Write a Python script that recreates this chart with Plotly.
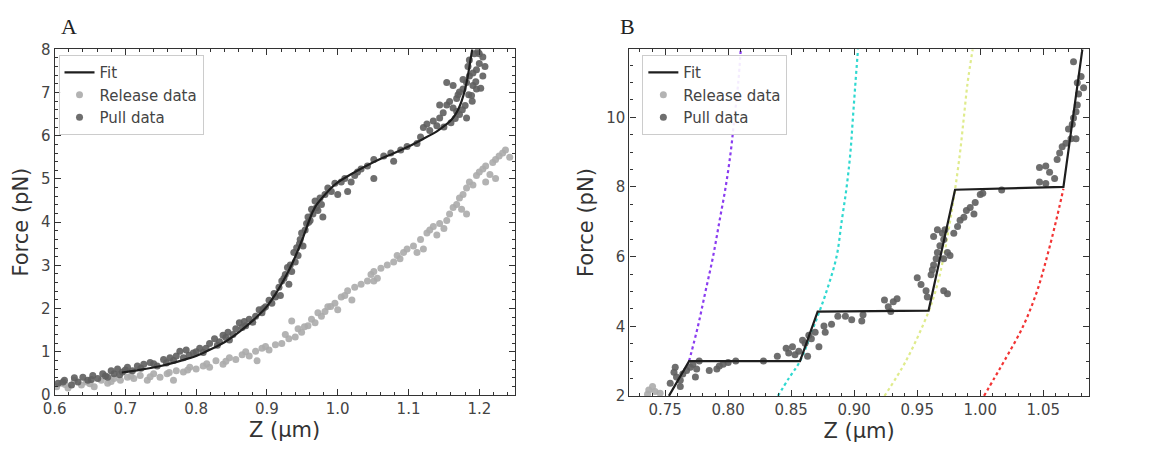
import plotly.graph_objects as go

# ---------------- Panel A data ----------------
a_fit_z = [0.695, 0.72, 0.75, 0.78, 0.80, 0.82, 0.84, 0.86, 0.88, 0.90, 0.91, 0.92, 0.93, 0.94,
           0.95, 0.96, 0.965, 0.97, 0.98, 0.99, 1.00, 1.02, 1.04, 1.06, 1.08, 1.10, 1.12, 1.14,
           1.15, 1.16, 1.165, 1.17, 1.175, 1.18, 1.184, 1.187, 1.19]
a_fit_f = [0.52, 0.58, 0.67, 0.80, 0.90, 1.05, 1.22, 1.45, 1.72, 2.05, 2.28, 2.55, 2.85, 3.20,
           3.60, 4.05, 4.25, 4.40, 4.60, 4.78, 4.92, 5.12, 5.30, 5.46, 5.60, 5.75, 5.92, 6.10,
           6.22, 6.36, 6.46, 6.60, 6.80, 7.08, 7.40, 7.70, 8.00]

a_pull_z = [0.605, 0.614, 0.624, 0.633, 0.640, 0.647, 0.654, 0.661, 0.668, 0.675, 0.680, 0.684,
            0.689, 0.696, 0.703, 0.710, 0.717, 0.726, 0.735, 0.745, 0.754, 0.763, 0.772, 0.777,
            0.786, 0.782, 0.796, 0.805, 0.814, 0.819, 0.826, 0.833, 0.838, 0.845, 0.847, 0.856,
            0.861, 0.865, 0.870, 0.875, 0.884, 0.889, 0.893, 0.898, 0.903, 0.907, 0.912, 0.917,
            0.919, 0.921, 0.926, 0.931, 0.933, 0.935, 0.940, 0.938, 0.942, 0.944, 0.947, 0.949,
            0.951, 0.954, 0.956, 0.958, 0.961, 0.963, 0.965, 0.968, 0.970, 0.972, 0.975, 0.977,
            0.979, 0.982, 0.986, 0.991, 0.996, 1.000, 1.005, 1.010, 1.014, 1.019, 1.024, 1.028,
            1.033, 1.042, 1.051, 1.051, 1.065, 1.075, 1.079, 1.089, 1.098, 1.112, 1.117, 1.121,
            1.126, 1.135, 1.144, 1.130, 1.140, 1.149, 1.154, 1.158, 1.163, 1.168, 1.172, 1.177,
            1.182, 1.182, 1.186, 1.191, 1.196, 1.200, 1.205, 1.191, 1.189, 1.196, 1.186, 1.193,
            1.184, 1.177, 1.163, 1.154, 1.144, 1.168, 1.172, 1.200, 1.205,
            0.612, 0.628, 0.652, 0.672, 0.692, 0.700, 0.722, 0.740, 0.758, 0.768, 0.790, 0.800,
            0.810, 0.830, 0.842, 0.852, 0.868, 0.880, 0.895, 0.910, 0.924, 0.929, 0.946, 0.959,
            1.180, 1.185, 1.195, 1.202, 1.208, 1.176, 1.170, 1.166, 1.160, 1.150, 1.198, 1.190]
a_pull_f = [0.27, 0.34, 0.23, 0.30, 0.41, 0.34, 0.45, 0.38, 0.49, 0.41, 0.56, 0.49,
            0.60, 0.53, 0.64, 0.56, 0.67, 0.71, 0.75, 0.67, 0.82, 0.86, 0.90, 1.01,
            1.04, 0.86, 0.97, 1.08, 1.08, 1.19, 1.30, 1.23, 1.38, 1.45, 1.27, 1.53,
            1.67, 1.56, 1.60, 1.75, 1.82, 1.97, 1.90, 2.04, 2.19, 2.12, 2.27, 2.49,
            2.30, 2.64, 2.79, 2.56, 3.01, 2.86, 3.08, 3.30, 3.41, 3.23, 3.60, 3.75,
            3.45, 3.82, 3.97, 4.12, 4.04, 4.30, 4.19, 4.49, 4.34, 4.27, 4.56, 4.41,
            4.12, 4.64, 4.79, 4.71, 4.90, 4.64, 4.93, 5.01, 4.71, 4.93, 5.08, 5.16,
            5.23, 5.30, 5.01, 5.45, 5.53, 5.60, 5.41, 5.67, 5.75, 5.82, 5.97, 6.19,
            6.27, 6.34, 6.41, 6.12, 6.23, 6.53, 6.71, 6.79, 6.64, 6.86, 7.01, 7.08,
            6.41, 7.23, 7.38, 7.45, 7.53, 7.67, 7.38, 7.16, 6.93, 7.08, 7.75, 7.90,
            7.60, 7.30, 7.16, 7.23, 6.71, 6.56, 6.49, 7.90, 7.82,
            0.30, 0.40, 0.36, 0.44, 0.47, 0.58, 0.62, 0.72, 0.74, 0.80, 0.92, 1.00,
            0.98, 1.15, 1.33, 1.40, 1.70, 1.68, 2.00, 2.35, 2.70, 2.95, 3.50, 4.00,
            6.70, 6.95, 7.25, 7.10, 7.60, 6.60, 6.95, 6.40, 6.30, 6.20, 7.95, 6.80]

a_rel_z = [0.603, 0.610, 0.619, 0.628, 0.638, 0.645, 0.656, 0.666, 0.675, 0.684, 0.693, 0.703,
           0.712, 0.721, 0.731, 0.740, 0.749, 0.759, 0.768, 0.772, 0.782, 0.791, 0.800, 0.810,
           0.819, 0.828, 0.838, 0.847, 0.856, 0.865, 0.875, 0.884, 0.886, 0.893, 0.903, 0.912,
           0.921, 0.931, 0.935, 0.940, 0.944, 0.949, 0.958, 0.963, 0.968, 0.972, 0.977, 0.982,
           0.986, 0.996, 1.000, 1.005, 1.010, 1.014, 1.024, 1.033, 1.042, 1.047, 1.051, 1.061,
           1.070, 1.079, 1.084, 1.093, 1.098, 1.107, 1.117, 1.126, 1.130, 1.135, 1.144, 1.154,
           1.158, 1.163, 1.168, 1.177, 1.182, 1.172, 1.186, 1.191, 1.196, 1.200, 1.205, 1.209,
           1.219, 1.223, 1.228, 1.233, 1.237, 1.223, 1.209, 1.182, 1.121, 1.051,
           0.615, 0.650, 0.680, 0.708, 0.735, 0.762, 0.788, 0.815, 0.842, 0.870, 0.898, 0.926,
           0.953, 0.990, 1.020, 1.056, 1.088, 1.112, 1.140, 1.150, 1.175, 1.215, 1.243]
a_rel_f = [0.19, 0.27, 0.16, 0.34, 0.23, 0.30, 0.19, 0.34, 0.27, 0.38, 0.34, 0.41,
           0.38, 0.45, 0.34, 0.49, 0.41, 0.49, 0.34, 0.56, 0.53, 0.64, 0.60, 0.67,
           0.64, 0.79, 0.71, 0.86, 0.82, 0.93, 0.90, 1.01, 0.79, 1.08, 1.04, 1.16,
           1.19, 1.30, 1.71, 1.34, 1.53, 1.45, 1.60, 1.75, 1.67, 1.90, 1.82, 1.93,
           2.04, 2.12, 1.97, 2.27, 2.30, 2.41, 2.49, 2.56, 2.64, 2.79, 2.86, 2.93,
           3.01, 3.08, 3.23, 3.30, 3.38, 3.45, 3.60, 3.75, 3.82, 3.90, 3.97, 4.04,
           4.19, 4.34, 4.41, 4.64, 4.79, 4.56, 4.93, 4.86, 5.08, 5.16, 5.23, 5.30,
           5.38, 5.45, 5.53, 5.60, 5.67, 5.01, 4.93, 4.19, 3.38, 2.64,
           0.24, 0.26, 0.31, 0.44, 0.42, 0.52, 0.58, 0.72, 0.78, 1.00, 1.12, 1.40,
           1.58, 2.05, 2.20, 2.70, 3.15, 3.30, 3.70, 3.85, 4.30, 5.10, 5.50]

# ---------------- Panel B data ----------------
b_fit_z = [0.753, 0.769, 0.857, 0.871, 0.959, 0.980, 1.066, 1.081]
b_fit_f = [2.00, 3.00, 3.00, 4.42, 4.45, 7.92, 8.00, 11.95]

b_pull_z = [0.754, 0.757, 0.759, 0.762, 0.758, 0.764, 0.762, 0.767, 0.770, 0.772, 0.775, 0.777,
            0.774, 0.785, 0.791, 0.793, 0.796, 0.800, 0.806, 0.828, 0.839, 0.846, 0.848, 0.851,
            0.853, 0.856, 0.859, 0.861, 0.863, 0.864, 0.866, 0.869, 0.872, 0.876, 0.877, 0.882,
            0.887, 0.893, 0.898, 0.906, 0.907, 0.924, 0.927, 0.931, 0.934, 0.929, 0.950, 0.953,
            0.957, 0.958, 0.961, 0.962, 0.963, 0.965, 0.966, 0.968, 0.971, 0.963, 0.966, 0.970,
            0.972, 0.971, 0.974, 0.976, 0.971, 0.974, 0.979, 0.984, 0.987, 0.989, 0.992, 0.995,
            0.996, 1.000, 1.002, 0.982, 1.017, 1.047, 1.052, 1.055, 1.059, 1.061, 1.063, 1.065,
            1.068, 1.070, 1.073, 1.074, 1.076, 1.077, 1.078, 1.077, 1.080, 1.082, 1.074, 1.076,
            1.072, 1.052, 1.047]
b_pull_f = [2.36, 2.68, 2.54, 2.45, 2.82, 2.63, 2.27, 2.73, 2.82, 2.91, 2.77, 3.00,
            2.54, 2.73, 2.77, 2.86, 2.91, 2.96, 3.00, 3.00, 3.14, 3.37, 3.23, 3.41,
            3.18, 3.28, 3.60, 3.51, 3.14, 3.74, 3.64, 3.83, 3.41, 4.01, 3.83, 4.06,
            4.29, 4.29, 4.19, 4.15, 4.33, 4.75, 4.56, 4.70, 4.79, 4.42, 5.39, 5.20,
            5.02, 4.84, 5.48, 5.62, 5.76, 5.94, 6.12, 6.31, 6.49, 6.58, 6.77, 6.67,
            6.77, 5.94, 6.12, 6.03, 5.02, 4.93, 6.67, 7.04, 7.13, 7.32, 7.41, 7.22,
            7.55, 7.78, 7.82, 6.86, 7.91, 8.56, 8.10, 8.42, 8.24, 8.79, 8.97, 9.15,
            9.25, 9.66, 9.80, 9.98, 10.16, 10.35, 10.67, 10.99, 11.17, 10.85, 11.59, 9.38,
            9.38, 8.60, 8.14]

b_rel_z = [0.737, 0.740, 0.742, 0.746, 0.736]
b_rel_f = [2.17, 2.27, 2.13, 2.08, 2.05]

purple_z = [0.769, 0.776, 0.782, 0.788, 0.793, 0.798, 0.802, 0.805, 0.808, 0.810]
purple_f = [3.00, 4.00, 5.00, 6.00, 7.00, 8.00, 9.00, 10.00, 11.00, 11.95]
cyan_z = [0.8395, 0.848, 0.857, 0.868, 0.878, 0.886, 0.890, 0.894, 0.897, 0.899, 0.901, 0.903]
cyan_f = [2.00, 2.50, 3.00, 4.00, 5.00, 6.00, 7.00, 8.00, 9.00, 10.00, 11.00, 11.95]
yellow_z = [0.924, 0.941, 0.959, 0.966, 0.971, 0.976, 0.980, 0.984, 0.987, 0.990, 0.994]
yellow_f = [2.00, 3.00, 4.42, 5.20, 6.00, 7.00, 7.92, 9.00, 10.00, 11.00, 11.95]
red_z = [1.003, 1.011, 1.019, 1.034, 1.045, 1.053, 1.060, 1.066]
red_f = [2.00, 2.50, 3.00, 4.00, 5.00, 6.00, 7.00, 7.95]

PULL = "#5e5e5e"
REL = "#ababab"
FIT = "#1e1e1e"
MS = 7

fig = go.Figure()

# Panel A
fig.add_trace(go.Scatter(x=a_rel_z, y=a_rel_f, mode="markers", name="Release data",
                         marker=dict(color=REL, size=MS, opacity=0.9), legendrank=2,
                         xaxis="x", yaxis="y", legend="legend"))
fig.add_trace(go.Scatter(x=a_pull_z, y=a_pull_f, mode="markers", name="Pull data",
                         marker=dict(color=PULL, size=MS, opacity=0.9), legendrank=3,
                         xaxis="x", yaxis="y", legend="legend"))
fig.add_trace(go.Scatter(x=a_fit_z, y=a_fit_f, mode="lines", name="Fit", line_shape="spline",
                         line=dict(color=FIT, width=2.2, smoothing=0.6), legendrank=1,
                         xaxis="x", yaxis="y", legend="legend"))

# Panel B
for zz, ff, col in [(purple_z, purple_f, "#8a3cf0"), (cyan_z, cyan_f, "#2fd8d0"),
                    (yellow_z, yellow_f, "#dfeb8c"), (red_z, red_f, "#f23333")]:
    fig.add_trace(go.Scatter(x=zz, y=ff, mode="lines", showlegend=False, line_shape="spline",
                             line=dict(color=col, width=2.2, dash="dot"),
                             xaxis="x2", yaxis="y2"))
fig.add_trace(go.Scatter(x=b_rel_z, y=b_rel_f, mode="markers", name="Release data",
                         marker=dict(color=REL, size=MS, opacity=0.9), legendrank=2,
                         xaxis="x2", yaxis="y2", legend="legend2"))
fig.add_trace(go.Scatter(x=b_pull_z, y=b_pull_f, mode="markers", name="Pull data",
                         marker=dict(color=PULL, size=MS, opacity=0.9), legendrank=3,
                         xaxis="x2", yaxis="y2", legend="legend2"))
fig.add_trace(go.Scatter(x=b_fit_z, y=b_fit_f, mode="lines", name="Fit",
                         line=dict(color=FIT, width=2.2), legendrank=1,
                         xaxis="x2", yaxis="y2", legend="legend2"))

W, H = 1150, 451
tickfont = dict(family="DejaVu Sans", size=15, color="#444444")
titlefont = dict(family="DejaVu Sans", size=21, color="#333333")

def axis_common():
    return dict(showline=True, linecolor="#333333", linewidth=1.2, mirror="allticks",
                ticks="inside", ticklen=6, tickwidth=1, tickcolor="#333333",
                showgrid=False, zeroline=False, tickfont=tickfont)

xa = axis_common()
xa.update(domain=[43 / W, 508 / W], range=[0.6, 1.25], dtick=0.1, tick0=0.6, tickformat=".1f",
          minor=dict(ticks="inside", ticklen=3, dtick=0.02, tickcolor="#333333"),
          title=dict(text="Z (µm)", font=titlefont, standoff=2), anchor="y")
ya = axis_common()
ya.update(domain=[(H - 402) / H, (H - 42) / H], range=[0, 8], dtick=1, tick0=0,
          minor=dict(ticks="inside", ticklen=3, dtick=0.2, tickcolor="#333333"),
          title=dict(text="Force (pN)", font=titlefont, standoff=6), anchor="x")
xb = axis_common()
xb.update(domain=[624 / W, 1088 / W], range=[0.7217, 1.086], dtick=0.05, tick0=0.75,
          tickformat=".2f",
          minor=dict(ticks="inside", ticklen=3, dtick=0.01, tickcolor="#333333"),
          title=dict(text="Z (µm)", font=titlefont, standoff=2), anchor="y2")
yb = axis_common()
yb.update(domain=[(H - 403) / H, (H - 42) / H], range=[2, 11.95], dtick=2, tick0=2,
          minor=dict(ticks="inside", ticklen=3, dtick=0.5, tickcolor="#333333"),
          title=dict(text="Force (pN)", font=titlefont, standoff=6), anchor="x2")

legfont = dict(family="DejaVu Sans", size=15, color="#444444")
fig.update_layout(
    width=W, height=H, margin=dict(l=0, r=0, t=0, b=0),
    paper_bgcolor="white", plot_bgcolor="white",
    xaxis=xa, yaxis=ya, xaxis2=xb, yaxis2=yb,
    legend=dict(x=47 / W, y=1 - 48 / H, xanchor="left", yanchor="top", font=legfont,
                bgcolor="rgba(255,255,255,0.9)", bordercolor="#cccccc", borderwidth=1,
                tracegroupgap=0, itemwidth=30),
    legend2=dict(x=637 / W, y=1 - 48 / H, xanchor="left", yanchor="top", font=legfont,
                 bgcolor="rgba(255,255,255,0.9)", bordercolor="#cccccc", borderwidth=1,
                 tracegroupgap=0, itemwidth=30),
    annotations=[
        dict(text="A", x=47 / W, y=1 - 18 / H, xref="paper", yref="paper", showarrow=False,
             xanchor="left", yanchor="middle",
             font=dict(family="Liberation Serif", size=22, color="#222222")),
        dict(text="B", x=612 / W, y=1 - 18 / H, xref="paper", yref="paper", showarrow=False,
             xanchor="left", yanchor="middle",
             font=dict(family="Liberation Serif", size=22, color="#222222")),
    ],
    showlegend=True,
)

fig.write_html("out.html")
